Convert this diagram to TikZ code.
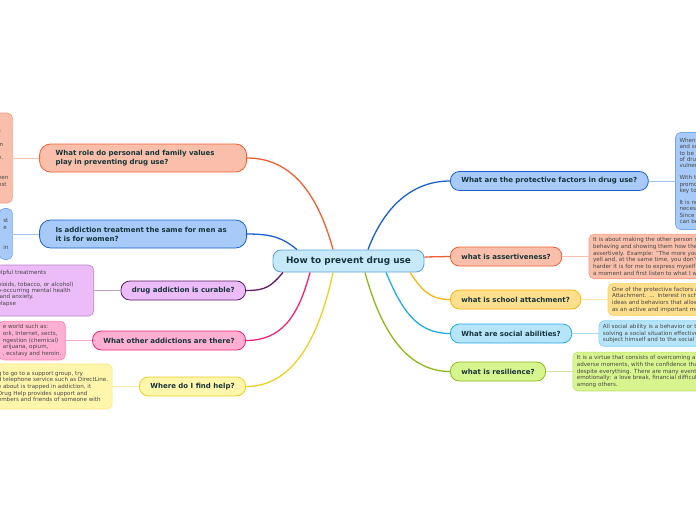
\documentclass[tikz,border=0pt]{standalone}
\usepackage{fontspec}
\setmainfont{DejaVu Sans}
\usepackage{tikz}
\usetikzlibrary{positioning}
\definecolor{ink}{RGB}{22,52,58}
\definecolor{notetext}{RGB}{70,70,70}
\definecolor{hubfill}{RGB}{200,233,250}
\definecolor{hubline}{RGB}{95,165,220}
\definecolor{salmonfill}{RGB}{249,191,170}
\definecolor{salmonline}{RGB}{240,95,50}
\definecolor{bluefill}{RGB}{168,202,248}
\definecolor{blueline}{RGB}{25,95,205}
\definecolor{lilacfill}{RGB}{235,188,247}
\definecolor{lilacline}{RGB}{95,25,105}
\definecolor{pinkfill}{RGB}{255,176,210}
\definecolor{pinkline}{RGB}{240,35,120}
\definecolor{lemonfill}{RGB}{255,246,172}
\definecolor{lemonline}{RGB}{235,208,35}
\definecolor{goldfill}{RGB}{255,222,140}
\definecolor{goldline}{RGB}{248,182,10}
\definecolor{skyfill}{RGB}{182,229,249}
\definecolor{skyline}{RGB}{35,172,228}
\definecolor{limefill}{RGB}{215,245,142}
\definecolor{limeline}{RGB}{140,185,25}
\newcommand\hubfont{\fontsize{8.9}{10}\selectfont\bfseries}
\newcommand\topicfont{\fontsize{7}{9}\selectfont\bfseries}
\newcommand\notefont{\fontsize{5.6}{6.7}\selectfont}
\newcommand\tightnotefont{\fontsize{5.6}{6.2}\selectfont}

\begin{document}
\begin{tikzpicture}[x=1pt, y=-1pt, node distance=26.5pt,
    hub/.style={draw=hubline, fill=hubfill, rounded corners=8pt, line width=0.9pt, minimum width=151pt, minimum height=22pt, font=\hubfont, text=ink},
    topic/.style={draw=#1line, fill=#1fill, rounded corners=9pt, line width=0.8pt, minimum height=19pt, inner xsep=11pt, font=\topicfont, text=ink},
    widetopic/.style={topic=#1, rounded corners=11pt, minimum height=28pt, text width=175pt, align=left, inner xsep=16pt},
    note/.style={draw=#1line!35!#1fill, fill=#1fill, rounded corners=5pt, line width=0.6pt, align=left, inner xsep=4pt, font=\notefont, text=notetext},
    longnote/.style={note=#1, text width=150pt},
    branch/.style={draw=#1line, line width=1.3pt},
    leader/.style={draw=#1line!40!white, line width=0.9pt}]
    \useasboundingbox (0,0) rectangle (696,520);

    % Centre
    \node [hub] (hub) at (348.5,261) {How to prevent drug use};

    % Right branches
    \node [topic=blue, anchor=west] (protect) at (450,181) {What are the protective factors in drug use?};
    \node [topic=salmon, anchor=west] (assert) at (450,256.5) {what is assertiveness?};
    \node [topic=gold, anchor=west] (school) at (450,299.5) {what is school attachment?};
    \node [topic=sky, anchor=west] (social) at (450,333.5) {What are social abilities?};
    \node [topic=lime, anchor=west] (resil) at (450,371.5) {what is resilience?};

    % Left branches
    \node [widetopic=salmon, anchor=east] (values) at (247,158) {What role do personal and family values\\ play in preventing drug use?};
    \node [widetopic=blue, anchor=east] (treat) at (247,234) {Is addiction treatment the same for men as\\ it is for women?};
    \node [topic=lilac, anchor=east] (curable) at (246,290.5) {drug addiction is curable?};
    \node [topic=pink, anchor=east] (other) at (246,340.5) {What other addictions are there?};
    \node [topic=lemon, anchor=east] (help) at (246,386.5) {Where do I find help?};

    % Notes
    \node [longnote=blue, font=\tightnotefont, minimum height=97pt, right=of protect] (protectnote) {When\\ and sc\\ to be a\\ of drug\\ vulnera\\ \mbox{}\\ With th\\ promo\\ key to\\ \mbox{}\\ It is no\\ necess\\ Since\\ can be};
    \node [longnote=salmon, minimum height=44pt, right=of assert] (assertnote) {It is about making the other person s\\ behaving and showing them how the\\ assertively. Example: "The more you\\ yell and, at the same time, you don't\\ harder it is for me to express myself\\ a moment and first listen to what I w};
    \node [longnote=gold, minimum height=31pt, right=of school] (schoolnote) {One of the protective factors a\\ Attachment. ... Interest in sch\\ ideas and behaviors that allow\\ as an active and important me};
    \node [longnote=sky, minimum height=25pt, right=of social] (socialnote) {All social ability is a behavior or ty\\ solving a social situation effective\\ subject himself and to the social e};
    \node [longnote=lime, minimum height=38pt, right=of resil] (resilnote) {It is a virtue that consists of overcoming a\\ adverse moments, with the confidence tha\\ despite everything. There are many events\\ emotionally: a love break, financial difficult\\ among others.};

    \node [note=salmon, minimum height=90pt, left=of values] (valuesnote) {s\\ \mbox{}\\ m\\ \mbox{}\\ e.\\ \mbox{}\\ t\\ een\\ nst};
    \node [note=blue, minimum height=51pt, left=of treat] (treatnote) {st\\ e\\ \mbox{}\\ \mbox{}\\ in};
    \node [note=lilac, font=\tightnotefont, text width=92pt, minimum height=51pt, left=of curable] (curablenote) {elpful treatments\\ \mbox{}\\ pioids, tobacco, or alcohol)\\ o-occurring mental health\\ \ and anxiety.\\ elapse\\ \mbox{}};
    \node [note=pink, minimum height=38pt, left=of other] (othernote) {e world such as:\\ ork, Internet, sects,\\ ngestion (chemical)\\ arijuana, opium,\\ , ecstasy and heroin.};
    \node [note=lemon, minimum height=45pt, left=of help] (helpnote) {g to go to a support group, try\\ d telephone service such as DirectLine.\\ e about is trapped in addiction, it\\ Drug Help provides support and\\ embers and friends of someone with};

    % Branches
    \draw [branch=blue] ([xshift=19.5pt]hub.north) .. controls +(15,-40) and +(-40,0) .. (protect.west);
    \draw [branch=salmon] ([yshift=4pt]hub.east) .. controls +(12,0) and +(-12,0) .. (assert.west);
    \draw [branch=gold] ([xshift=61.5pt]hub.south) .. controls +(12,18) and +(-20,0) .. (school.west);
    \draw [branch=sky] ([xshift=37.5pt]hub.south) .. controls +(15,35) and +(-35,0) .. (social.west);
    \draw [branch=lime] ([xshift=16.5pt]hub.south) .. controls +(15,55) and +(-45,0) .. (resil.west);
    \draw [branch=salmon] ([xshift=-15.5pt]hub.north) .. controls +(-15,-55) and +(45,0) .. (values.east);
    \draw [branch=blue] ([xshift=-51.5pt]hub.north) .. controls +(-15,-12) and +(25,0) .. (treat.east);
    \draw [branch=lilac] ([xshift=-65.5pt]hub.south) .. controls +(-12,14) and +(20,0) .. (curable.east);
    \draw [branch=pink] ([xshift=-38.5pt]hub.south) .. controls +(-12,45) and +(35,0) .. (other.east);
    \draw [branch=lemon] ([xshift=-15.5pt]hub.south) .. controls +(-15,70) and +(45,0) .. (help.east);

    % Leaders
    \draw [leader=blue] (protect.east) -- (protectnote.west);
    \draw [leader=salmon] (assert.east) -- (assertnote.west);
    \draw [leader=gold] (school.east) -- (schoolnote.west);
    \draw [leader=sky] (social.east) -- (socialnote.west);
    \draw [leader=lime] (resil.east) -- (resilnote.west);
    \draw [leader=salmon] (values.west) -- (valuesnote.east);
    \draw [leader=blue] (treat.west) -- (treatnote.east);
    \draw [leader=lilac] (curable.west) -- (curablenote.east);
    \draw [leader=pink] (other.west) -- (othernote.east);
    \draw [leader=lemon] (help.west) -- (helpnote.east);

\end{tikzpicture}
\end{document}
